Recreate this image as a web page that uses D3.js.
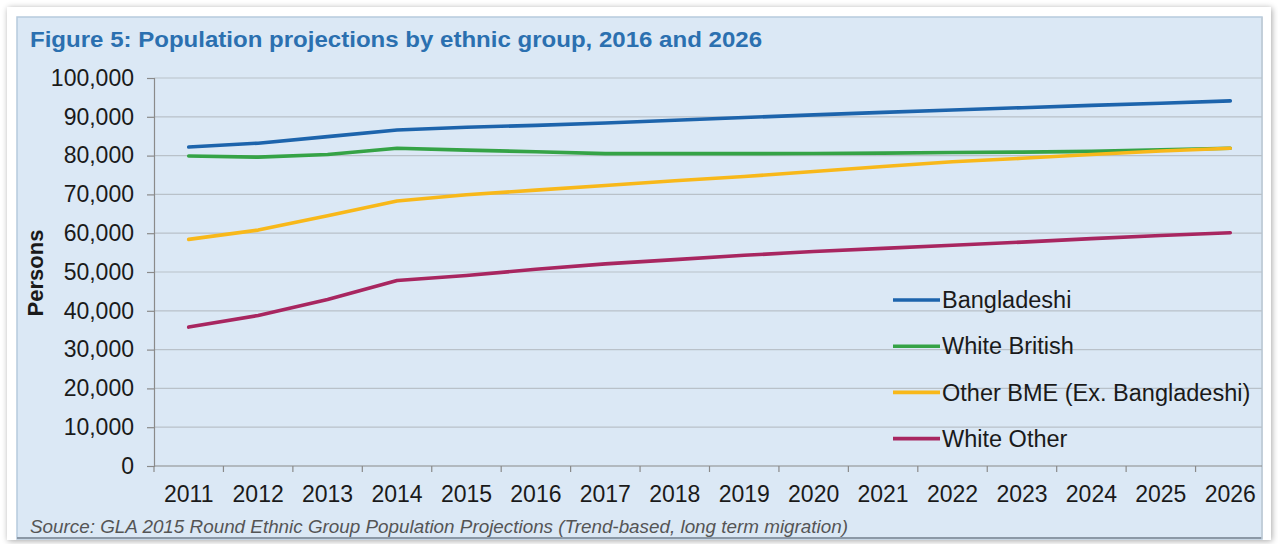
<!DOCTYPE html>
<html>
<head>
<meta charset="utf-8">
<script src="https://cdn.jsdelivr.net/npm/d3@7"></script>
<style>
  html, body { margin: 0; padding: 0; background: #ffffff; }
  svg { display: block; font-family: "Liberation Sans", Arial, sans-serif; }
</style>
</head>
<body>
<svg id="chart" width="1278" height="544"></svg>
<script>
/*
 * Population projections by ethnic group, 2011 to 2026.
 * Values.
*/

var years = ["2011", "2012", "2013", "2014", "2015", "2016", "2017", "2018",
             "2019", "2020", "2021", "2022", "2023", "2024", "2025", "2026"];

var bangladeshi = [82200, 83200, 84900, 86600, 87300, 87800, 88400, 89100,
                   89800, 90500, 91150, 91750, 92350, 92950, 93500, 94100];
var whiteBritish = [79900, 79600, 80300, 81900, 81400, 81000, 80500, 80500,
                    80500, 80550, 80650, 80800, 80900, 81100, 81500, 81900];
var otherBME = [58400, 60800, 64500, 68300, 69900, 71100, 72300, 73500,
                74600, 75900, 77200, 78400, 79300, 80300, 81200, 81900];
var whiteOther = [35800, 38800, 42900, 47800, 49100, 50700, 52100, 53200,
                  54300, 55300, 56100, 56900, 57700, 58600, 59400, 60100];

var seriesNames = ["Bangladeshi", "White British", "Other BME (Ex. Bangladeshi)", "White Other"];
var seriesColors = ["#1d64ac", "#35a346", "#f8b81a", "#a82660"];
var yTicks = [0, 10000, 20000, 30000, 40000, 50000, 60000, 70000, 80000, 90000, 100000];

var TITLE = "Figure 5: Population projections by ethnic group, 2016 and 2026";
var SOURCE = "Source: GLA 2015 Round Ethnic Group Population Projections (Trend-based, long term migration)";

var svg = d3.select("#chart"),
    width = +svg.attr("width"),
    height = +svg.attr("height");

// Plot area edges (in pixels of the 1278x544 page).
var plotLeft = 154, plotRight = 1265, plotTop = 78, plotBottom = 466;
var panelRight = 1262;

var x = d3.scaleBand().domain(years).range([plotLeft, plotRight]).padding(0);
var y = d3.scaleLinear().domain([0, 100000]).range([plotBottom, plotTop]);

// Drop shadow for the outer frame.
var defs = svg.append("defs");
var shadow = defs.append("filter").attr("id", "shadow")
    .attr("x", "-5%").attr("y", "-5%").attr("width", "110%").attr("height", "110%");
shadow.append("feGaussianBlur").attr("in", "SourceAlpha").attr("stdDeviation", 3);
shadow.append("feOffset").attr("dx", 1).attr("dy", 1).attr("result", "blur");
shadow.append("feComponentTransfer").append("feFuncA").attr("type", "linear").attr("slope", 0.35);
var merge = shadow.append("feMerge");
merge.append("feMergeNode");
merge.append("feMergeNode").attr("in", "SourceGraphic");

var clip = defs.append("clipPath").attr("id", "panelClip");
clip.append("rect").attr("x", 18).attr("y", 18).attr("width", panelRight - 18).attr("height", 520);

// Frame: white card with a light blue panel inside.
svg.append("rect")
    .attr("x", 7).attr("y", 7).attr("width", 1264).attr("height", 533)
    .attr("fill", "#ffffff")
    .attr("filter", "url(#shadow)");

svg.append("rect")
    .attr("x", 17).attr("y", 17).attr("width", panelRight - 17).attr("height", 522)
    .attr("fill", "#dbe8f5")
    .attr("stroke", "#b7cadd")
    .attr("stroke-width", 1.5);

// Bevel shading on the bottom and right edges of the panel.
svg.append("line")
    .attr("x1", 17).attr("x2", panelRight).attr("y1", 538).attr("y2", 538)
    .attr("stroke", "#8b98a6").attr("stroke-width", 2);
svg.append("line")
    .attr("x1", panelRight).attr("x2", panelRight).attr("y1", 17).attr("y2", 539)
    .attr("stroke", "#c2ccd6").attr("stroke-width", 1.5);

// Title.
svg.append("text")
    .attr("x", 30).attr("y", 47)
    .attr("font-size", 22)
    .attr("font-weight", "bold")
    .attr("fill", "#2b70b0")
    .attr("textLength", 732)
    .attr("lengthAdjust", "spacingAndGlyphs")
    .text(TITLE);

var plot = svg.append("g").attr("clip-path", "url(#panelClip)");

// Horizontal gridlines.
plot.append("g")
    .attr("class", "grid")
    .selectAll("line")
    .data(yTicks.filter(function(d) { return d > 0; }))
    .enter().append("line")
    .attr("x1", plotLeft).attr("x2", panelRight)
    .attr("y1", function(d) { return y(d); })
    .attr("y2", function(d) { return y(d); })
    .attr("stroke", "#b9c1c9")
    .attr("stroke-width", 1.2);

// Y axis with thousands separators.
var yAxis = svg.append("g")
    .attr("transform", "translate(" + plotLeft + ",0)")
    .call(d3.axisLeft(y).tickValues(yTicks).tickFormat(d3.format(",")).tickSize(7).tickPadding(13));
yAxis.select(".domain").attr("stroke", "#8a8a8a").attr("stroke-width", 1.2);
yAxis.selectAll(".tick line").attr("stroke", "#8a8a8a").attr("stroke-width", 1.2);
yAxis.selectAll(".tick text")
    .attr("font-size", 23)
    .attr("fill", "#1a1a1a")
    .attr("font-family", "Liberation Sans, Arial, sans-serif");

// X axis: labels centred on each year, tick marks between years.
var xAxis = svg.append("g")
    .attr("transform", "translate(0," + plotBottom + ")");
xAxis.append("line")
    .attr("x1", plotLeft).attr("x2", panelRight)
    .attr("stroke", "#8a8a8a").attr("stroke-width", 1.2);
xAxis.selectAll("line.tick")
    .data(years)
    .enter().append("line")
    .attr("class", "tick")
    .attr("x1", function(d) { return x(d); })
    .attr("x2", function(d) { return x(d); })
    .attr("y1", 0).attr("y2", 6)
    .attr("stroke", "#8a8a8a").attr("stroke-width", 1.2);
xAxis.selectAll("text")
    .data(years)
    .enter().append("text")
    .attr("x", function(d) { return x(d) + x.bandwidth() / 2; })
    .attr("y", 36)
    .attr("text-anchor", "middle")
    .attr("font-size", 23)
    .attr("fill", "#1a1a1a")
    .text(function(d) { return d; });

// Y axis title.
svg.append("text")
    .attr("transform", "translate(43,273) rotate(-90)")
    .attr("text-anchor", "middle")
    .attr("font-size", 22)
    .attr("font-weight", "bold")
    .attr("fill", "#1a1a1a")
    .text("Persons");

// Series lines.
var seriesValues = [bangladeshi, whiteBritish, otherBME, whiteOther];
var line = d3.line()
    .x(function(d, i) { return x(years[i]) + x.bandwidth() / 2; })
    .y(function(d) { return y(d); });

plot.append("g")
    .selectAll("path")
    .data(seriesValues)
    .enter().append("path")
    .attr("d", line)
    .attr("fill", "none")
    .attr("stroke", function(d, i) { return seriesColors[i]; })
    .attr("stroke-width", 3.6)
    .attr("stroke-linejoin", "round")
    .attr("stroke-linecap", "round");

// Legend.
var legend = svg.append("g").attr("transform", "translate(893,300)");
var item = legend.selectAll("g")
    .data(seriesNames)
    .enter().append("g")
    .attr("transform", function(d, i) { return "translate(0," + (i * 46.2) + ")"; });
item.append("line")
    .attr("x1", 0).attr("x2", 47)
    .attr("stroke", function(d, i) { return seriesColors[i]; })
    .attr("stroke-width", 3.6);
item.append("text")
    .attr("x", 49)
    .attr("dy", "0.35em")
    .attr("font-size", 23.5)
    .attr("fill", "#1a1a1a")
    .text(function(d) { return d; });

// Source note.
svg.append("text")
    .attr("x", 30).attr("y", 533)
    .attr("font-size", 18)
    .attr("font-style", "italic")
    .attr("fill", "#555555")
    .attr("textLength", 818)
    .attr("lengthAdjust", "spacingAndGlyphs")
    .text(SOURCE);
</script>
</body>
</html>
